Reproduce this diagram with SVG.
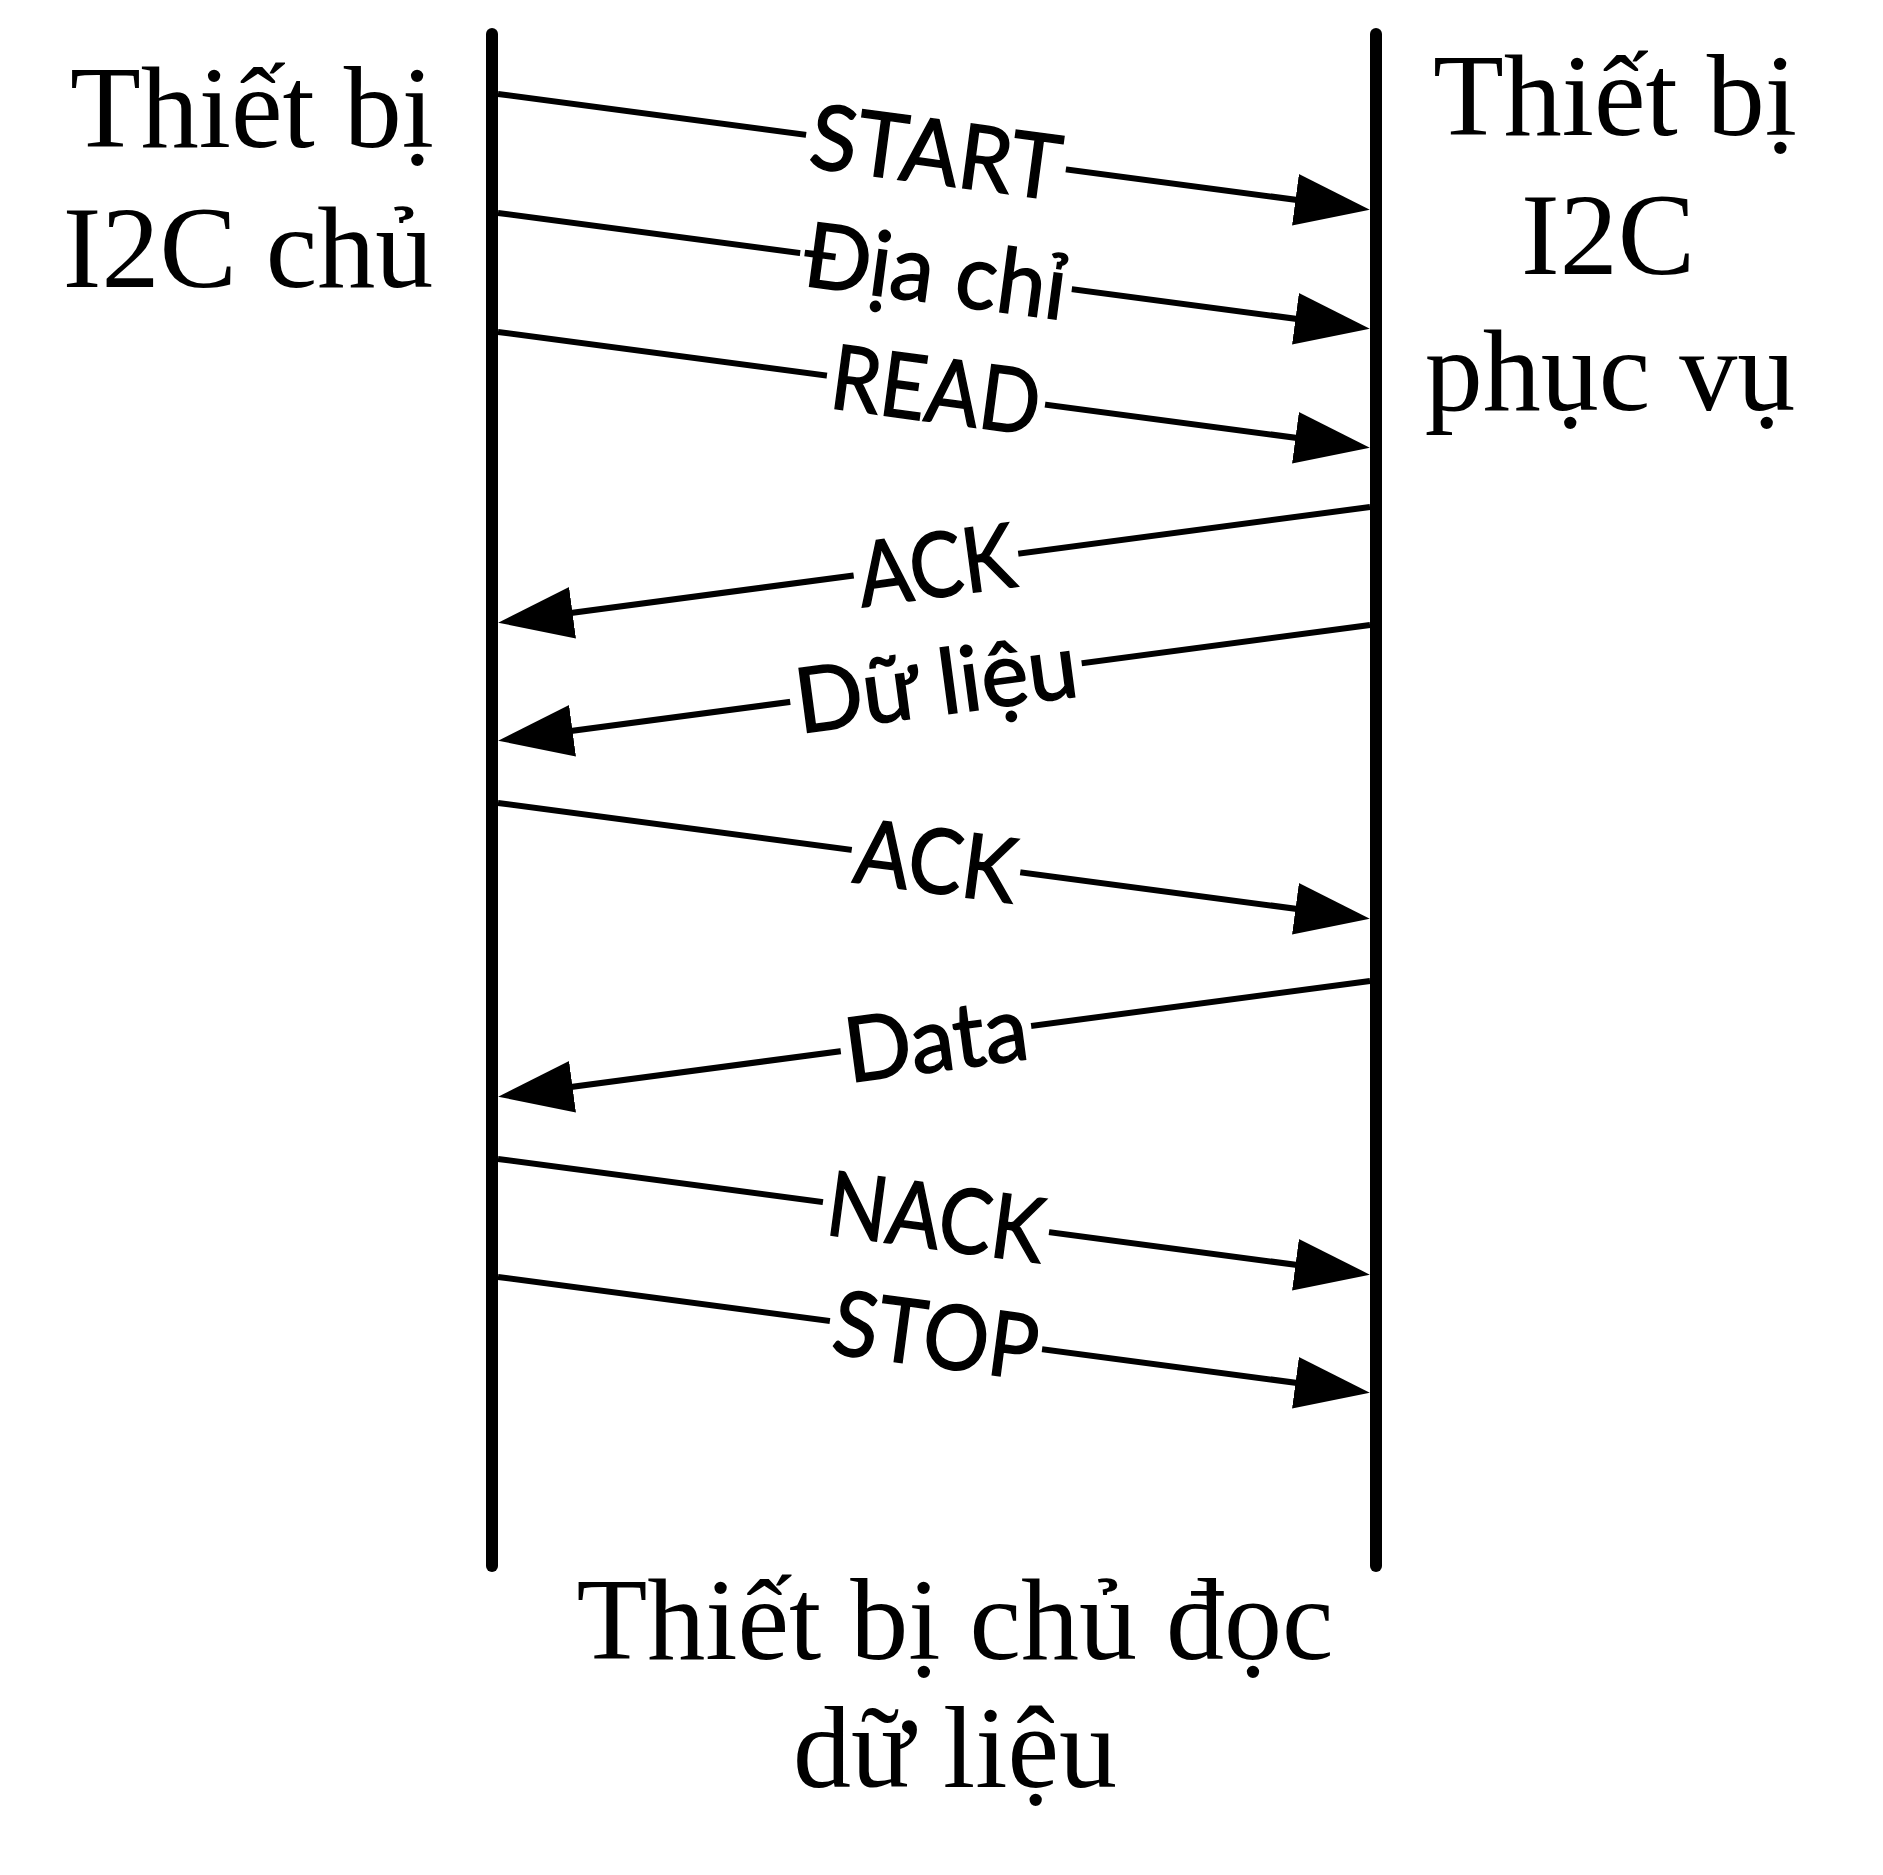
<svg xmlns="http://www.w3.org/2000/svg" width="1883" height="1875" viewBox="0 0 1883 1875">
<defs>
<style>
.life{stroke:#000;stroke-width:12;stroke-linecap:round;fill:none}
.msg{stroke:#000;stroke-width:6;fill:none;marker-end:url(#ah)}
.title{font-family:"Liberation Serif","Times New Roman",serif;font-size:116px;fill:#000;text-anchor:middle}
.lbl{font-family:Lato,"Noto Sans","DejaVu Sans",sans-serif;font-size:90px;fill:#000;stroke:#000;stroke-width:1.5;text-anchor:middle}
.gap{fill:#fff}
</style>
<marker id="ah" markerUnits="userSpaceOnUse" markerWidth="76" markerHeight="54" viewBox="0 0 76 54" refX="55" refY="27" orient="auto">
<path d="M0,1 L75,27 L0,53 Z" fill="#000"/>
</marker>
</defs>
<rect width="1883" height="1875" fill="#fff"/>

<g id="master">
<line class="life" x1="492" y1="34" x2="492" y2="1566"/>
<text class="title" x="252" y="147">Thiết bị</text>
<text class="title" x="248" y="287">I2C chủ</text>
</g>

<g id="slave">
<line class="life" x1="1376" y1="34" x2="1376" y2="1566"/>
<text class="title" x="1615" y="135">Thiết bị</text>
<text class="title" x="1608" y="274">I2C</text>
<text class="title" x="1610" y="410">phục vụ</text>
</g>

<g id="caption">
<text class="title" x="955" y="1659">Thiết bị chủ đọc</text>
<text class="title" x="955" y="1787">dữ liệu</text>
</g>

<g id="connectors">
<!-- START -->
<line class="msg" x1="498" y1="94" x2="1350" y2="207"/>
<g transform="translate(936,152) rotate(7.58)"><rect class="gap" x="-131" y="-12" width="262" height="24"/><text class="lbl" x="0" y="32" textLength="252" lengthAdjust="spacingAndGlyphs">START</text></g>
<!-- Dia chi -->
<line class="msg" x1="498" y1="213" x2="1350" y2="326"/>
<g transform="translate(936,271) rotate(7.58)"><rect class="gap" x="-137" y="-12" width="274" height="24"/><text class="lbl" x="0" y="32" textLength="264" lengthAdjust="spacingAndGlyphs">Địa chỉ</text></g>
<!-- READ -->
<line class="msg" x1="498" y1="332" x2="1350" y2="445"/>
<g transform="translate(936,390) rotate(7.58)"><rect class="gap" x="-110" y="-12" width="220" height="24"/><text class="lbl" x="0" y="32" textLength="210" lengthAdjust="spacingAndGlyphs">READ</text></g>
<!-- ACK back -->
<line class="msg" x1="1370" y1="507" x2="518" y2="620"/>
<g transform="translate(936,565) rotate(-7.58)"><rect class="gap" x="-83" y="-12" width="166" height="24"/><text class="lbl" x="0" y="32" textLength="158" lengthAdjust="spacingAndGlyphs">ACK</text></g>
<!-- Du lieu back -->
<line class="msg" x1="1370" y1="625" x2="518" y2="738"/>
<g transform="translate(936,683) rotate(-7.58)"><rect class="gap" x="-147" y="-12" width="294" height="24"/><text class="lbl" x="0" y="32" textLength="284" lengthAdjust="spacingAndGlyphs">Dữ liệu</text></g>
<!-- ACK -->
<line class="msg" x1="498" y1="803" x2="1350" y2="916"/>
<g transform="translate(936,861) rotate(7.58)"><rect class="gap" x="-85" y="-12" width="170" height="24"/><text class="lbl" x="0" y="32" textLength="162" lengthAdjust="spacingAndGlyphs">ACK</text></g>
<!-- Data back -->
<line class="msg" x1="1370" y1="981" x2="518" y2="1094"/>
<g transform="translate(936,1039) rotate(-7.58)"><rect class="gap" x="-96" y="-12" width="192" height="24"/><text class="lbl" x="0" y="32" textLength="184" lengthAdjust="spacingAndGlyphs">Data</text></g>
<!-- NACK -->
<line class="msg" x1="498" y1="1159" x2="1350" y2="1272"/>
<g transform="translate(936,1217) rotate(7.58)"><rect class="gap" x="-114" y="-12" width="228" height="24"/><text class="lbl" x="0" y="32" textLength="218" lengthAdjust="spacingAndGlyphs">NACK</text></g>
<!-- STOP -->
<line class="msg" x1="498" y1="1277" x2="1350" y2="1390"/>
<g transform="translate(936,1335) rotate(7.58)"><rect class="gap" x="-107" y="-12" width="214" height="24"/><text class="lbl" x="0" y="32" textLength="206" lengthAdjust="spacingAndGlyphs">STOP</text></g>
</g>
</svg>
